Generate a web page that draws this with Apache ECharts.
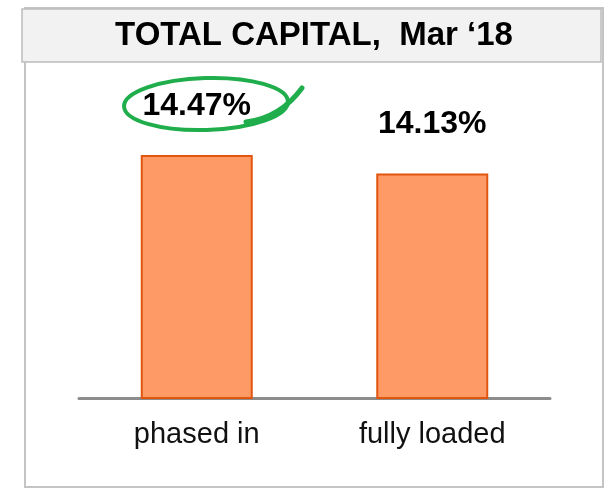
<!DOCTYPE html>
<html>
<head>
<meta charset="utf-8">
<script src="https://cdn.jsdelivr.net/npm/echarts@6/dist/echarts.min.js"></script>
<style>
  html, body { margin: 0; padding: 0; background: #fff; }
  #chart { width: 608px; height: 491px; }
</style>
</head>
<body>
<div id="chart"></div>
<script>
// data
var categories = ['phased in', 'fully loaded']
var capitalRatio = [14.47, 14.13]
var titleText = 'TOTAL CAPITAL,  Mar \u201818'

var myChart = echarts.init(document.getElementById('chart'))
var font = 'Liberation Sans, Arial, Helvetica, sans-serif'

var option = {
  animation: false,
  backgroundColor: '#fff',
  grid: {
    left: 79,
    right: 58,
    top: 99,
    bottom: 93,
    containLabel: false
  },
  xAxis: {
    type: 'category',
    data: categories,
    axisTick: { show: false },
    axisLine: {
      lineStyle: { color: '#8c8c8c', width: 3 }
    },
    axisLabel: {
      color: '#111',
      fontSize: 29,
      fontFamily: font,
      margin: 22
    }
  },
  yAxis: {
    type: 'value',
    min: 10,
    max: 15.5,
    show: false
  },
  graphic: [
    // outer frame
    {
      type: 'rect',
      shape: { x: 25, y: 8, width: 578, height: 479 },
      style: { fill: 'none', stroke: '#c4c4c4', lineWidth: 2 },
      z: 0
    },
    // title band
    {
      type: 'rect',
      shape: { x: 22, y: 9, width: 579, height: 53 },
      style: { fill: '#f2f2f2', stroke: '#bcbcbc', lineWidth: 1.5 },
      z: 1
    },
    {
      type: 'text',
      x: 314,
      y: 36,
      style: {
        text: titleText,
        fontSize: 33,
        fontWeight: 'bold',
        fontFamily: font,
        fill: '#000',
        align: 'center',
        verticalAlign: 'middle'
      },
      z: 2
    },
    // hand drawn green highlight
    {
      type: 'ellipse',
      shape: { cx: 206, cy: 104, rx: 82, ry: 26 },
      rotation: 0.03,
      originX: 206,
      originY: 104,
      style: { fill: 'none', stroke: '#1fae4b', lineWidth: 4 },
      z: 3
    },
    {
      type: 'bezierCurve',
      shape: { x1: 246, y1: 122, cpx1: 280, cpy1: 118, x2: 302, y2: 88 },
      style: { fill: 'none', stroke: '#1fae4b', lineWidth: 5, lineCap: 'round' },
      z: 3
    }
  ],
  series: [
    {
      type: 'bar',
      data: capitalRatio,
      barWidth: 112,
      itemStyle: {
        color: '#fe9a66',
        borderColor: '#e2550f',
        borderWidth: 2
      },
      label: {
        show: true,
        position: 'top',
        distance: 33,
        color: '#000',
        fontSize: 32,
        fontWeight: 'bold',
        fontFamily: font,
        formatter: function (p) {
          return p.value.toFixed(2) + '%'
        }
      }
    }
  ]
}

myChart.setOption(option, true)
</script>
</body>
</html>
